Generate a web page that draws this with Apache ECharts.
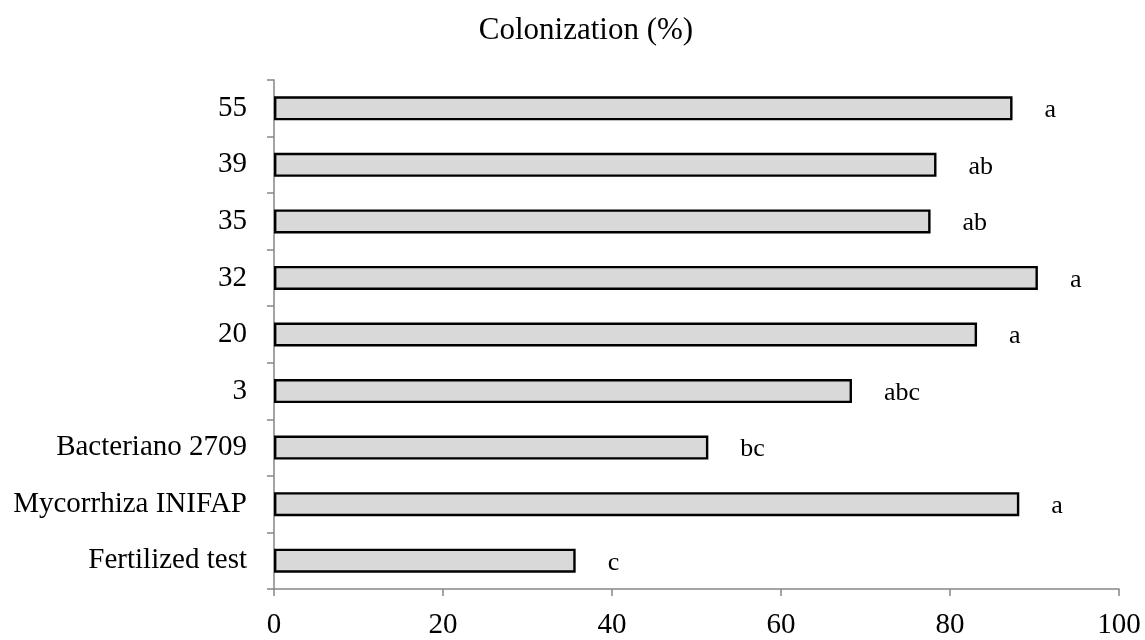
<!DOCTYPE html>
<html>
<head>
<meta charset="utf-8">
<script src="https://cdn.jsdelivr.net/npm/echarts@6/dist/echarts.min.js"></script>
<style>html,body{margin:0;padding:0;background:#fff}#c{width:1145px;height:640px}</style>
</head>
<body>
<div id="c"></div>
<script>
const categories = ["Fertilized test", "Mycorrhiza INIFAP", "Bacteriano 2709", "3", "20", "32", "35", "39", "55"];
const colonization = [35.7, 88.2, 51.4, 68.4, 83.2, 90.4, 77.7, 78.4, 87.4];
const letters = ["c", "a", "bc", "abc", "a", "a", "ab", "ab", "a"];
const xTicks = [0, 20, 40, 60, 80, 100];

const FONT = '"Liberation Serif", "Times New Roman", serif';
const chart = echarts.init(document.getElementById('c'), null, {renderer: 'canvas'});
chart.setOption({
  animation: false,
  backgroundColor: '#ffffff',
  title: {
    text: 'Colonization (%)',
    left: 581, top: 10, textAlign: 'center',
    textStyle: {fontFamily: FONT, fontSize: 31, fontWeight: 'normal', color: '#000'}
  },
  grid: {left: 274, right: 26, top: 80, bottom: 50, containLabel: false},
  xAxis: {
    type: 'value', min: xTicks[0], max: xTicks[xTicks.length - 1], interval: 20,
    axisLine: {show: true, lineStyle: {color: '#868686', width: 1.5}},
    axisTick: {show: true, length: 7, lineStyle: {color: '#868686', width: 1.5}},
    splitLine: {show: false},
    axisLabel: {fontFamily: FONT, fontSize: 29, color: '#000', margin: 22}
  },
  yAxis: {
    type: 'category', data: categories,
    axisLine: {show: true, lineStyle: {color: '#868686', width: 1.5}},
    axisTick: {show: true, length: 7, lineStyle: {color: '#868686', width: 1.5}},
    axisLabel: {fontFamily: FONT, fontSize: 29, color: '#000', margin: 27}
  },
  series: [{
    type: 'bar',
    data: colonization,
    barWidth: 24,
    itemStyle: {color: '#d9d9d9', borderColor: '#000', borderWidth: 2.4},
    label: {
      show: true, position: 'right', distance: 32, offset: [0, 2],
      formatter: p => letters[p.dataIndex],
      fontFamily: FONT, fontSize: 26, color: '#000'
    }
  }]
});
</script>
</body>
</html>
